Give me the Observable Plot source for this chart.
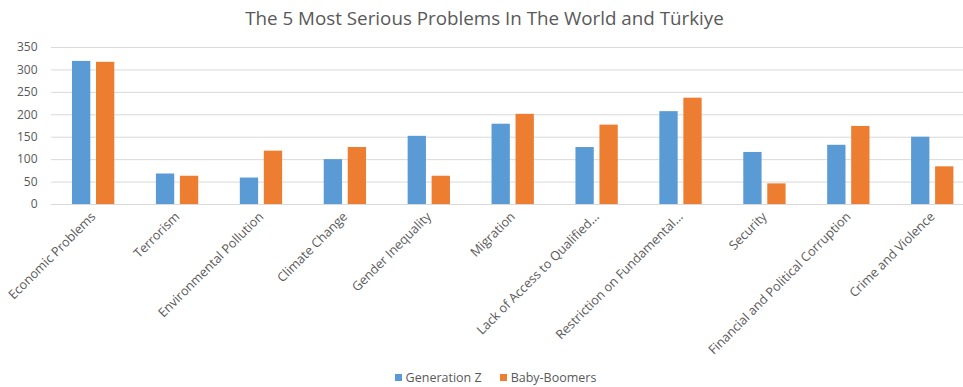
<!DOCTYPE html>
<html>
<head>
<meta charset="utf-8">
<script src="https://cdn.jsdelivr.net/npm/d3@7"></script>
<script src="https://cdn.jsdelivr.net/npm/@observablehq/plot@0.6"></script>
<style>
  html, body { margin: 0; padding: 0; background: #fff; overflow: hidden; }
  body { width: 963px; height: 387px; font-family: "Open Sans", sans-serif; color: #595959; }
  #title { height: 36px; line-height: 36px; text-align: center; font-size: 18.8px; padding-left: 6px; }
  #legend { display: flex; justify-content: center; gap: 18px; font-size: 12.5px; margin-top: 3px; padding-left: 28px; }
  #legend span.sw { display: inline-block; width: 7px; height: 7px; margin-right: 4px; }
  #legend div { display: flex; align-items: center; }
</style>
</head>
<body>
<div id="title">The 5 Most Serious Problems In The World and Türkiye</div>
<div id="chart"></div>
<div id="legend"></div>
<script>
const categories = [
  "Economic Problems", "Terrorism", "Environmental Pollution", "Climate Change",
  "Gender Inequality", "Migration", "Lack of Access to Qualified...",
  "Restriction on Fundamental...", "Security", "Financial and Political Corruption",
  "Crime and Violence"
];
const generationZ = [319, 68, 59, 100, 152, 179, 127, 207, 116, 132, 150];
const babyBoomers = [317, 63, 119, 127, 63, 201, 177, 237, 46, 174, 84];
const yTicks = [0, 50, 100, 150, 200, 250, 300, 350];
const seriesNames = ["Generation Z", "Baby-Boomers"];
const seriesColors = ["#5b9bd5", "#ed7d31"];

const rows = categories.map((c, i) => ({category: c, gz: generationZ[i], bb: babyBoomers[i]}));

const chart = Plot.plot({
  width: 963,
  height: 330,
  marginLeft: 51,
  marginRight: 0,
  marginTop: 11,
  marginBottom: 162,
  style: {fontFamily: "Open Sans, sans-serif", fontSize: "12px", color: "#595959", overflow: "visible"},
  x: {domain: categories, range: [51, 974], padding: 0, round: false, label: null},
  y: {domain: [0, 350], ticks: yTicks, label: null},
  marks: [
    Plot.gridY(yTicks, {stroke: "#d9d9d9", strokeOpacity: 1, strokeWidth: 1}),
    Plot.axisY({ticks: yTicks, tickSize: 0, tickPadding: 14, label: null}),
    Plot.axisX({tickSize: 0, tickRotate: -45, tickPadding: 10, fontSize: 12.7, label: null}),
    Plot.barY(rows, {x: "category", y: "gz", fill: seriesColors[0], insetLeft: 21, insetRight: 44.6}),
    Plot.barY(rows, {x: "category", y: "bb", fill: seriesColors[1], insetLeft: 45, insetRight: 20.6})
  ]
});
document.getElementById("chart").appendChild(chart);

const legend = document.getElementById("legend");
seriesNames.forEach((name, i) => {
  const item = document.createElement("div");
  item.innerHTML = `<span class="sw" style="background:${seriesColors[i]}"></span>${name}`;
  legend.appendChild(item);
});
</script>
</body>
</html>
